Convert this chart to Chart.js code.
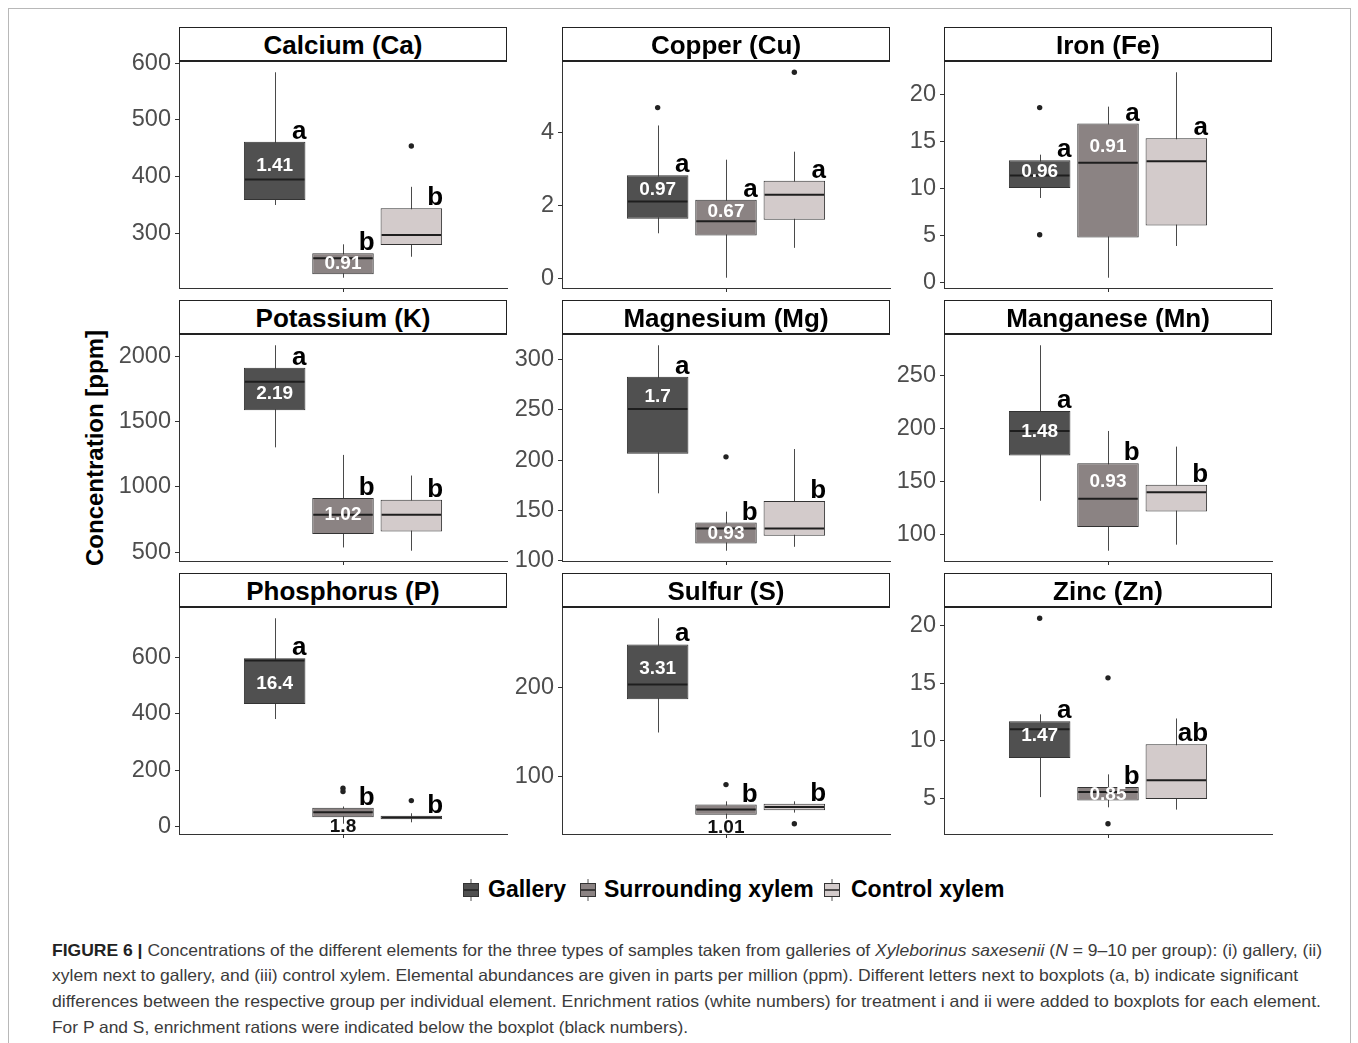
<!DOCTYPE html>
<html>
<head>
<meta charset="utf-8">
<title>Figure 6 - element concentrations</title>
<script src="https://cdn.jsdelivr.net/npm/chart.js@4.4.1/dist/chart.umd.min.js"></script>
<style>
  body { margin: 0; background: #fff; font-family: "Liberation Sans", Arial, sans-serif; }
  #figure { position: relative; width: 1358px; height: 1043px; overflow: hidden; }
  .frame { position: absolute; left: 8px; top: 8px; width: 1341px; height: 1060px; border: 1px solid #b8b8b8; }
  .strip {
    position: absolute; box-sizing: border-box; border: 1px solid #222; border-bottom-width: 2px;
    background: #fff; color: #000; font-weight: bold; font-size: 26px; line-height: 32px;
    text-align: center; padding-top: 1px; z-index: 2;
  }
  canvas { position: absolute; }
  .ytitle {
    position: absolute; left: 95px; top: 448px; transform: translate(-50%, -50%) rotate(-90deg);
    white-space: nowrap; font-weight: bold; font-size: 24px; color: #000;
  }
  .key { position: absolute; top: 879px; }
  .keytext { position: absolute; top: 874px; line-height: 30px; font-weight: bold; font-size: 23px; color: #000; white-space: nowrap; }
  .cap { position: absolute; left: 52px; white-space: nowrap; font-size: 16.5px; line-height: 22px; color: #3b3b3b; transform-origin: left center; }
  .cap b { color: #222; }
</style>
</head>
<body>
<div id="figure">
  <div class="frame"></div>
  <div class="ytitle">Concentration [ppm]</div>
  <div id="legend"></div>
  <div class="cap" style="top:939px" data-w="1270"><b>FIGURE 6 |</b> Concentrations of the different elements for the three types of samples taken from galleries of <i>Xyleborinus saxesenii</i> (<i>N</i> = 9–10 per group): (i) gallery, (ii)</div>
  <div class="cap" style="top:964px" data-w="1246">xylem next to gallery, and (iii) control xylem. Elemental abundances are given in parts per million (ppm). Different letters next to boxplots (a, b) indicate significant</div>
  <div class="cap" style="top:990px" data-w="1269">differences between the respective group per individual element. Enrichment ratios (white numbers) for treatment i and ii were added to boxplots for each element.</div>
  <div class="cap" style="top:1016px" data-w="636">For P and S, enrichment rations were indicated below the boxplot (black numbers).</div>
</div>
<script>
const elements = ["Calcium (Ca)", "Copper (Cu)", "Iron (Fe)", "Potassium (K)", "Magnesium (Mg)",
  "Manganese (Mn)", "Phosphorus (P)", "Sulfur (S)", "Zinc (Zn)"];
const groups = ["Gallery", "Surrounding xylem", "Control xylem"];

// one row per element, one value per group (ppm)
const whiskerLow = [
  [350, 221.7, 258.7], [1.24, 0.02, 0.84], [9.0, 0.53, 3.9],
  [1302, 535, 510], [167, 110, 113.9], [131.9, 85, 90.7],
  [381, 10, 15], [149.5, 52, 59], [5.09, 4.2, 4.0],
];
const quartile1 = [
  [358.8, 227.7, 279.4], [1.64, 1.18, 1.61], [10.07, 4.8, 6.08],
  [1587, 638, 658], [206.4, 117.2, 124.8], [174.4, 107.2, 121.9],
  [434, 33, 26], [187.2, 56.6, 61.5], [8.5, 4.8, 4.92],
];
const medians = [
  [395, 256, 297], [2.11, 1.57, 2.3], [11.4, 12.74, 12.9],
  [1804, 785, 785], [250.6, 132, 132], [197.5, 133.8, 140],
  [588, 51, 32], [203.8, 62.6, 65.2], [11.0, 5.53, 6.55],
];
const quartile3 = [
  [461.7, 264.7, 344], [2.83, 2.16, 2.68], [13.0, 16.9, 15.34],
  [1911, 913, 900], [282.8, 138, 159.3], [216.3, 167.2, 146.9],
  [596, 67, 38], [249, 68, 69], [11.7, 5.97, 9.69],
];
const whiskerHigh = [
  [584, 280.6, 382], [4.2, 3.26, 3.48], [13.6, 18.7, 22.35],
  [2084, 1244, 1086], [314, 148.8, 211], [278, 197.5, 182.8],
  [738, 71, 47], [278.6, 71.7, 71.7], [12.3, 7.07, 11.94],
];
const outliers = [
  [[], [], [454]], [[4.69], [], [5.66]], [[18.6, 5.09], [], []],
  [[], [], []], [[], [203.2], []], [[], [], []],
  [[], [136, 124], [92]], [[], [90.6], [46.4]], [[20.67], [15.48, 2.77], []],
];
const letters = [
  ["a", "b", "b"], ["a", "a", "a"], ["a", "a", "a"],
  ["a", "b", "b"], ["a", "b", "b"], ["a", "b", "b"],
  ["a", "b", "b"], ["a", "b", "b"], ["a", "b", "ab"],
];
// enrichment ratios for gallery and surrounding xylem, and the value they sit at
const ratioLabels = [
  ["1.41", "0.91"], ["0.97", "0.67"], ["0.96", "0.91"],
  ["2.19", "1.02"], ["1.7", "0.93"], ["1.48", "0.93"],
  ["16.4", "1.8"], ["3.31", "1.01"], ["1.47", "0.85"],
];
const ratioValues = [
  [419, 246], [2.44, 1.84], [11.74, 14.4],
  [1715, 785], [263, 127], [196.3, 149.4],
  [505, 0], [221, 42], [10.42, 5.33],
];
const yTicks = [
  [300, 400, 500, 600], [0, 2, 4], [0, 5, 10, 15, 20],
  [500, 1000, 1500, 2000], [100, 150, 200, 250, 300], [100, 150, 200, 250],
  [0, 200, 400, 600], [100, 200], [5, 10, 15, 20],
];

const groupColors = ["#505050", "#8b8383", "#d3cbcb"];
const FONT = "'Liberation Sans', Arial, sans-serif";

// panel geometry (page pixels)
const colLeft = [179, 562, 944];
const stripTop = [27, 300, 573];
const plotWidth = 328;
const stripHeight = 35;
const plotHeight = 226;
const AXIS_W = 100;
const PAD_TOP = 20;
const PAD_RIGHT = 10;
const PAD_BOTTOM = 20;
const DODGE = 0.25;

Chart.defaults.font.family = FONT;

function yRange(p) {
  const values = [...whiskerLow[p], ...whiskerHigh[p], ...outliers[p].flat()];
  const lo = Math.min(...values);
  const hi = Math.max(...values);
  const pad = (hi - lo) * 0.05;
  return { min: lo - pad, max: hi + pad };
}

const boxplotExtras = {
  id: "boxplotExtras",
  beforeDatasetsDraw(chart, _args, opts) {
    const p = opts.panel;
    const { ctx } = chart;
    const y = chart.scales.y;
    ctx.save();
    ctx.strokeStyle = "#4a4a4a";
    ctx.lineWidth = 1;
    chart.getDatasetMeta(0).data.forEach((box, g) => {
      const x = Math.round(box.x) + 0.5;
      ctx.beginPath();
      ctx.moveTo(x, y.getPixelForValue(whiskerLow[p][g]));
      ctx.lineTo(x, y.getPixelForValue(whiskerHigh[p][g]));
      ctx.stroke();
    });
    ctx.restore();
  },
  afterDatasetsDraw(chart, _args, opts) {
    const p = opts.panel;
    const { ctx } = chart;
    const y = chart.scales.y;
    const boxes = chart.getDatasetMeta(0).data;
    ctx.save();
    boxes.forEach((box, g) => {
      const half = box.width / 2;
      const ym = y.getPixelForValue(medians[p][g]);
      ctx.strokeStyle = "#1e1e1e";
      ctx.lineWidth = 2;
      ctx.beginPath();
      ctx.moveTo(box.x - half + 1, ym);
      ctx.lineTo(box.x + half - 1, ym);
      ctx.stroke();

      ctx.fillStyle = "#000";
      ctx.font = `bold 26px ${FONT}`;
      ctx.textAlign = "right";
      ctx.textBaseline = "alphabetic";
      ctx.fillText(letters[p][g], box.x + half + 1, y.getPixelForValue(quartile3[p][g]) - 3);
    });

    ratioLabels[p].forEach((label, g) => {
      const box = boxes[g];
      const inside = ratioValues[p][g] >= quartile1[p][g];
      ctx.fillStyle = inside ? "#ffffff" : "#111111";
      ctx.font = `bold 19px ${FONT}`;
      ctx.textAlign = "center";
      ctx.textBaseline = "middle";
      ctx.fillText(label, box.x, y.getPixelForValue(ratioValues[p][g]));
    });
    ctx.restore();
  },
};

function buildChart(canvas, p) {
  const range = yRange(p);
  const groupX = (g) => 1 + (g - 1) * DODGE;
  const points = [];
  outliers[p].forEach((list, g) => list.forEach((v) => points.push({ x: groupX(g), y: v })));

  return new Chart(canvas, {
    type: "bar",
    plugins: [boxplotExtras],
    data: {
      datasets: [
        {
          type: "bar",
          data: groups.map((_name, g) => ({ x: groupX(g), y: [quartile1[p][g], quartile3[p][g]] })),
          backgroundColor: groupColors,
          borderColor: "#333333",
          borderWidth: 1,
          borderSkipped: false,
          categoryPercentage: 1,
          barPercentage: 0.9,
        },
        {
          type: "scatter",
          data: points,
          pointRadius: 2.7,
          pointBackgroundColor: "#222222",
          pointBorderWidth: 0,
        },
      ],
    },
    options: {
      responsive: false,
      animation: false,
      events: [],
      layout: { padding: { top: PAD_TOP, right: PAD_RIGHT, bottom: 0, left: 0 } },
      plugins: {
        legend: { display: false },
        tooltip: { enabled: false },
        boxplotExtras: { panel: p },
      },
      scales: {
        x: {
          type: "linear",
          min: 0.4,
          max: 1.6,
          bounds: "data",
          offset: false,
          afterBuildTicks: (axis) => { axis.ticks = [{ value: 1 }]; },
          afterFit: (axis) => { axis.height = PAD_BOTTOM; axis.paddingLeft = 0; axis.paddingRight = 0; },
          ticks: { callback: () => "", autoSkip: false },
          grid: { display: true, offset: false, drawOnChartArea: false, drawTicks: true, tickLength: 4, tickColor: "#333" },
          border: { display: true, color: "#333", width: 1 },
        },
        y: {
          type: "linear",
          min: range.min,
          max: range.max,
          bounds: "data",
          beginAtZero: false,
          afterBuildTicks: (axis) => { axis.ticks = yTicks[p].map((v) => ({ value: v })); },
          afterFit: (axis) => { axis.width = AXIS_W; axis.paddingTop = 0; axis.paddingBottom = 0; },
          ticks: {
            autoSkip: false,
            padding: 4,
            color: "#4d4d4d",
            font: { size: 23.5 },
            callback: (value) => String(value),
          },
          grid: { display: true, drawOnChartArea: false, drawTicks: true, tickLength: 4, tickColor: "#333" },
          border: { display: true, color: "#333", width: 1 },
        },
      },
    },
  });
}

const figure = document.getElementById("figure");

elements.forEach((name, p) => {
  const left = colLeft[p % 3];
  const top = stripTop[Math.floor(p / 3)];

  const strip = document.createElement("div");
  strip.className = "strip";
  strip.style.left = `${left}px`;
  strip.style.top = `${top}px`;
  strip.style.width = `${plotWidth}px`;
  strip.style.height = `${stripHeight}px`;
  strip.textContent = name;
  figure.appendChild(strip);

  const canvas = document.createElement("canvas");
  canvas.width = AXIS_W + plotWidth + PAD_RIGHT;
  canvas.height = PAD_TOP + plotHeight + PAD_BOTTOM;
  canvas.style.left = `${left - AXIS_W}px`;
  canvas.style.top = `${top + stripHeight - PAD_TOP}px`;
  figure.appendChild(canvas);
  buildChart(canvas, p);
});

// legend: small boxplot keys next to the group names
const legendSpots = [[462, 488], [579, 604], [823, 851]];
const legend = document.getElementById("legend");
groups.forEach((name, g) => {
  const [keyX, textX] = legendSpots[g];
  const key = document.createElement("div");
  key.className = "key";
  key.style.left = `${keyX}px`;
  key.innerHTML = `<svg width="18" height="22" viewBox="0 0 18 22">
    <line x1="9" y1="0" x2="9" y2="22" stroke="#555" stroke-width="1"/>
    <rect x="1.5" y="4.5" width="15" height="13" fill="${groupColors[g]}" stroke="#333" stroke-width="1"/>
    <line x1="2" y1="11" x2="16" y2="11" stroke="#222" stroke-width="1.5"/>
  </svg>`;
  legend.appendChild(key);

  const text = document.createElement("div");
  text.className = "keytext";
  text.style.left = `${textX}px`;
  text.textContent = name;
  legend.appendChild(text);
});

// fit caption lines to the widths in the printed figure
function fitCaption() {
  document.querySelectorAll(".cap").forEach((line) => {
    const target = Number(line.dataset.w);
    const width = line.getBoundingClientRect().width;
    if (width > 0) {
      line.style.transform = `scaleX(${target / width})`;
    }
  });
}
document.fonts.ready.then(fitCaption);
</script>
</body>
</html>
